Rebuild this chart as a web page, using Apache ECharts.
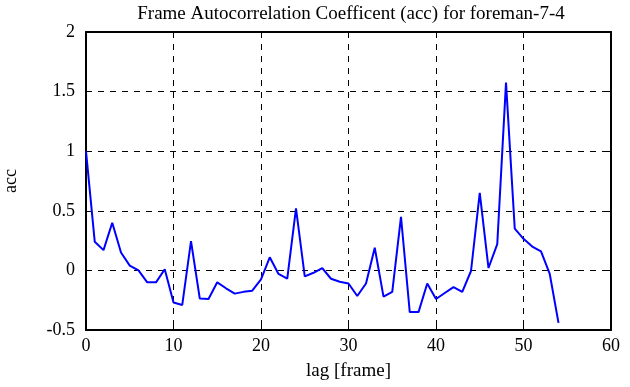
<!DOCTYPE html>
<html>
<head>
<meta charset="utf-8">
<script src="https://cdn.jsdelivr.net/npm/echarts@6/dist/echarts.min.js"></script>
<style>
  html, body { margin: 0; padding: 0; background: #fff; }
  #chart { width: 630px; height: 387px; }
</style>
</head>
<body>
<div id="chart"></div>
<script>
// lag values 0..54 and autocorrelation
const lags = [];
for (let k = 0; k <= 54; k++) lags.push(k);
const acc = [
  1.0, 0.24, 0.17, 0.40, 0.15, 0.04, 0.0, -0.10, -0.10, 0.01,
  -0.27, -0.29, 0.245, -0.235, -0.24, -0.10, -0.15, -0.195, -0.18, -0.17,
  -0.075, 0.11, -0.03, -0.07, 0.52, -0.05, -0.02, 0.02, -0.07, -0.095,
  -0.11, -0.215, -0.11, 0.19, -0.22, -0.18, 0.45, -0.35, -0.35, -0.11,
  -0.24, -0.19, -0.14, -0.18, -0.005, 0.65, 0.02, 0.22, 1.575, 0.35,
  0.265, 0.20, 0.16, -0.03, -0.44
];
const titleText = 'Frame Autocorrelation Coefficent (acc) for foreman-7-4';

const font = 'Liberation Serif';
const chart = echarts.init(document.getElementById('chart'));

const boxAxis = {
  axisLine: { show: true, onZero: false, lineStyle: { color: '#000', width: 2 } },
  axisTick: { show: true, inside: true, length: 5, lineStyle: { color: '#000', width: 1 } },
};

const option = {
  animation: false,
  title: {
    text: titleText,
    left: 346, textAlign: 'center', top: 0,
    textStyle: { fontFamily: font, fontSize: 19, fontWeight: 'normal', color: '#000' }
  },
  grid: { left: 86, right: 19, top: 32, bottom: 57, outerBoundsMode: 'none', containLabel: false },
  xAxis: [
    Object.assign({
      type: 'value', min: 0, max: 60, interval: 10,
      name: 'lag [frame]', nameLocation: 'middle', nameGap: 32,
      nameTextStyle: { fontFamily: font, fontSize: 19, color: '#000' },
      axisLabel: { fontFamily: font, fontSize: 18, color: '#000', margin: 7 },
      splitLine: { show: true, lineStyle: { color: '#000', type: [6, 6], width: 1 } }
    }, boxAxis),
    Object.assign({
      type: 'value', min: 0, max: 60, interval: 10, position: 'top',
      axisLabel: { show: false }, splitLine: { show: false }
    }, boxAxis)
  ],
  yAxis: [
    Object.assign({
      type: 'value', min: -0.5, max: 2, interval: 0.5,
      name: 'acc', nameLocation: 'middle', nameGap: 66,
      nameTextStyle: { fontFamily: font, fontSize: 18, color: '#000' },
      axisLabel: { fontFamily: font, fontSize: 18, color: '#000', margin: 11 },
      splitLine: { show: true, lineStyle: { color: '#000', type: [6, 6], width: 1 } }
    }, boxAxis),
    Object.assign({
      type: 'value', min: -0.5, max: 2, interval: 0.5, position: 'right',
      axisLabel: { show: false }, splitLine: { show: false }
    }, boxAxis)
  ],
  series: [{
    type: 'line',
    data: lags.map((k, i) => [k, acc[i]]),
    showSymbol: false,
    lineStyle: { color: '#0000ff', width: 2 },
    itemStyle: { color: '#0000ff' }
  }]
};
chart.setOption(option);
</script>
</body>
</html>
